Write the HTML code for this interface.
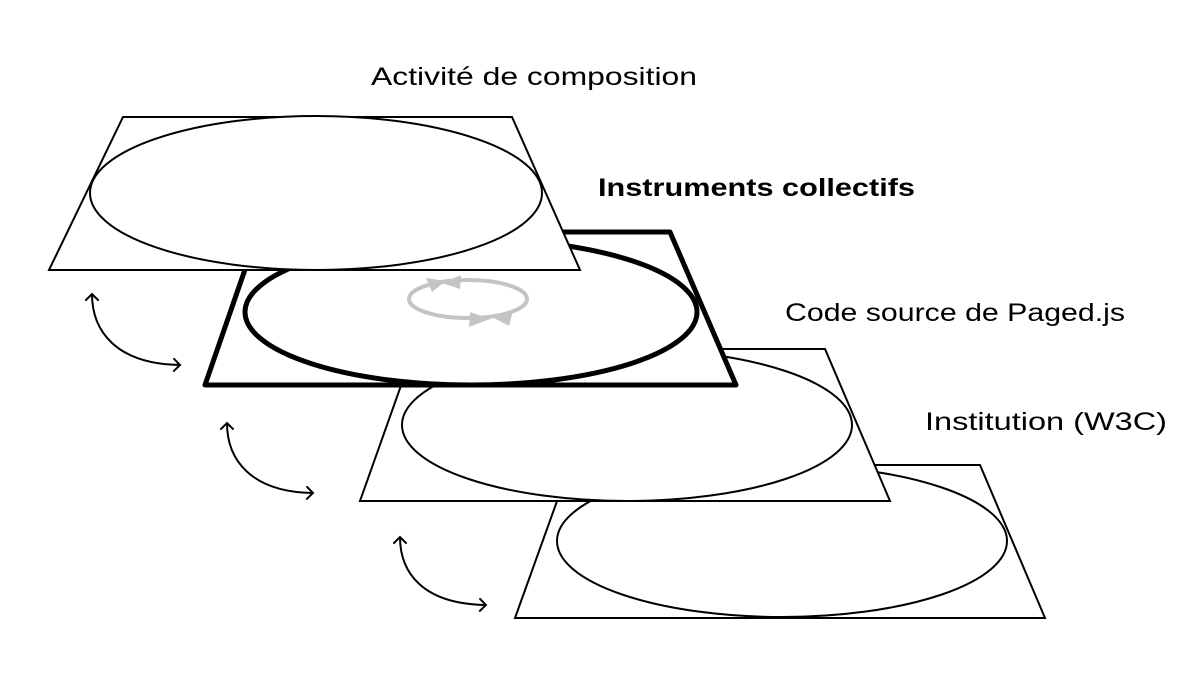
<!DOCTYPE html>
<html><head><meta charset="utf-8"><style>
html,body{margin:0;padding:0;background:#fff;}
svg{display:block;}
text{font-family:"Liberation Sans",sans-serif;font-size:25px;fill:#000;}
</style></head><body>
<svg width="1200" height="682" viewBox="0 0 1200 682">
<defs>
<marker id="ah" markerWidth="14" markerHeight="14" refX="8" refY="7" orient="auto-start-reverse" markerUnits="userSpaceOnUse">
<path d="M2,1 L8,7 L2,13" fill="none" stroke="#000" stroke-width="2" stroke-linecap="round"/>
</marker>
</defs>
<!-- L4 -->
<polygon points="570,465 980,465 1045,618 515,618" fill="#fff" stroke="#000" stroke-width="2"/>
<ellipse cx="782" cy="541" rx="225" ry="76" fill="#fff" stroke="#000" stroke-width="2"/>
<!-- L3 -->
<polygon points="414,349 825,349 890,501 360,501" fill="#fff" stroke="#000" stroke-width="2"/>
<ellipse cx="627" cy="425" rx="225" ry="76" fill="#fff" stroke="#000" stroke-width="2"/>
<!-- L2 bold -->
<polygon points="258,232 670,232 736,385 205,385" fill="#fff" stroke="#000" stroke-width="5" stroke-linejoin="round"/>
<ellipse cx="471" cy="312" rx="226" ry="73" fill="#fff" stroke="#000" stroke-width="5"/>
<!-- gray cycle -->
<ellipse cx="468" cy="299" rx="59" ry="19" fill="none" stroke="#c4c4c4" stroke-width="4"/>
<polygon points="446,281 426,278 432,292" fill="#c4c4c4"/>
<polygon points="442,283 461,275 460,289" fill="#c4c4c4"/>
<polygon points="490,319 470,312 469,327" fill="#c4c4c4"/>
<polygon points="494,318 513,311 509,326" fill="#c4c4c4"/>
<!-- L1 -->
<polygon points="123,117 512,117 580,270 49,270" fill="#fff" stroke="#000" stroke-width="2"/>
<ellipse cx="316" cy="193" rx="226" ry="77" fill="#fff" stroke="#000" stroke-width="2"/>
<!-- curved arrows -->
<path d="M92,294 C92,330 115,364 180,365" fill="none" stroke="#000" stroke-width="2" marker-start="url(#ah)" marker-end="url(#ah)"/>
<path d="M227,423 C227,459 250,492 313,493" fill="none" stroke="#000" stroke-width="2" marker-start="url(#ah)" marker-end="url(#ah)"/>
<path d="M400,537 C400,572 422,604 486,605" fill="none" stroke="#000" stroke-width="2" marker-start="url(#ah)" marker-end="url(#ah)"/>
<!-- labels -->
<text x="371" y="85" textLength="326" lengthAdjust="spacingAndGlyphs">Activité de composition</text>
<text x="598" y="196" font-weight="bold" textLength="317" lengthAdjust="spacingAndGlyphs">Instruments collectifs</text>
<text x="785" y="321" textLength="340" lengthAdjust="spacingAndGlyphs">Code source de Paged.js</text>
<text x="925" y="430" textLength="242" lengthAdjust="spacingAndGlyphs">Institution (W3C)</text>
</svg>
</body></html>
